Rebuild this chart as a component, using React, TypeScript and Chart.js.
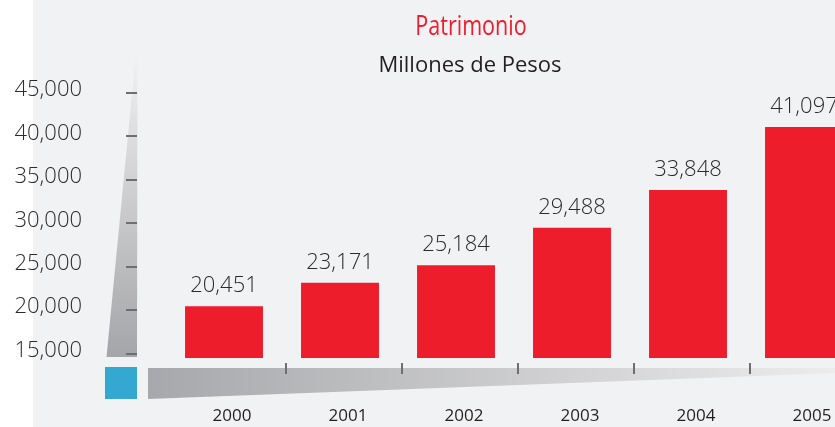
import React, { useEffect, useRef } from "react";
import { Chart, registerables } from "chart.js";

Chart.register(...registerables);

const categories = ["2000", "2001", "2002", "2003", "2004", "2005"];
const patrimonio = [20451, 23171, 25184, 29488, 33848, 41097];
const yTickValues = [15000, 20000, 25000, 30000, 35000, 40000, 45000];
const titleText = "Patrimonio";
const subtitleText = "Millones de Pesos";

const FONT = "'Open Sans', 'DejaVu Sans', sans-serif";

const decorPlugin = {
  id: "decor",
  beforeDraw(chart: any) {
    const ctx = chart.ctx;
    const W = chart.width;
    const H = chart.height;
    ctx.save();
    ctx.fillStyle = "#ffffff";
    ctx.fillRect(0, 0, W, H);
    ctx.fillStyle = "#f1f2f4";
    ctx.fillRect(33, 0, W - 33, H);

    // vertical wedge
    const yScale = chart.scales.y;
    const gv = ctx.createLinearGradient(0, 37, 0, 357);
    gv.addColorStop(0, "#f6f6f7");
    gv.addColorStop(1, "#a4a5a8");
    ctx.fillStyle = gv;
    ctx.beginPath();
    ctx.moveTo(137.5, 37);
    ctx.lineTo(137, 357);
    ctx.lineTo(106.5, 357);
    ctx.closePath();
    ctx.fill();

    // y tick marks on wedge
    ctx.fillStyle = "#6d6e71";
    yTickValues.forEach((v) => {
      const y = Math.round(yScale.getPixelForValue(v));
      ctx.fillRect(126, y - 1, 11, 2);
    });

    // blue square
    ctx.fillStyle = "#35a8d1";
    ctx.fillRect(105, 367, 32, 32);

    // bottom wedge
    const gh = ctx.createLinearGradient(148, 0, 835, 0);
    gh.addColorStop(0, "#a7a8ab");
    gh.addColorStop(1, "#ececed");
    ctx.fillStyle = gh;
    ctx.beginPath();
    ctx.moveTo(148, 368);
    ctx.lineTo(W, 368);
    ctx.lineTo(W, 372);
    ctx.lineTo(148, 399);
    ctx.closePath();
    ctx.fill();

    // x tick marks on bottom wedge
    const xScale = chart.scales.x;
    ctx.fillStyle = "#6d6e71";
    for (let i = 0; i < categories.length - 1; i++) {
      const x = (xScale.getPixelForTick(i) + xScale.getPixelForTick(i + 1)) / 2 + 4;
      ctx.fillRect(Math.round(x) - 1, 363, 2, 11);
    }

    // titles
    ctx.fillStyle = "#ed1c2e";
    ctx.textAlign = "center";
    ctx.textBaseline = "alphabetic";
    ctx.font = `28px ${FONT}`;
    ctx.save();
    ctx.translate(471, 35);
    ctx.scale(0.77, 1);
    ctx.fillText(titleText, 0, 0);
    ctx.restore();

    ctx.fillStyle = "#231f20";
    ctx.font = `22px ${FONT}`;
    ctx.fillText(subtitleText, 470, 72);
    ctx.restore();
  },
  afterDatasetsDraw(chart: any) {
    const ctx = chart.ctx;
    const meta = chart.getDatasetMeta(0);
    ctx.save();
    ctx.fillStyle = "#2b2b2b";
    ctx.font = `300 22px ${FONT}`;
    ctx.textAlign = "center";
    ctx.textBaseline = "alphabetic";
    meta.data.forEach((bar: any, i: number) => {
      ctx.fillText(patrimonio[i].toLocaleString("en-US"), bar.x, bar.y - 14);
    });
    ctx.restore();
  },
};

export default function App() {
  const ref = useRef<HTMLCanvasElement>(null);
  useEffect(() => {
    if (!ref.current) return;
    const chart = new Chart(ref.current, {
      type: "bar",
      data: {
        labels: categories,
        datasets: [
          {
            label: titleText,
            data: patrimonio,
            backgroundColor: "#ee1d2c",
            borderWidth: 0,
            categoryPercentage: 1,
            barPercentage: 0.672,
          },
        ],
      },
      options: {
        animation: false,
        responsive: false,
        layout: { padding: { top: 93, left: 0, right: 0, bottom: 0 } },
        plugins: {
          legend: { display: false },
          tooltip: { enabled: false },
          title: { display: false },
        },
        scales: {
          x: {
            grid: { display: false, drawTicks: false },
            border: { display: false },
            ticks: {
              color: "#231f20",
              font: { family: FONT, size: 17 },
              padding: 48,
              labelOffset: 8,
              maxRotation: 0,
              autoSkip: false,
            },
            afterFit: (s: any) => {
              s.height = 69;
              s.paddingLeft = 0;
              s.paddingRight = 0;
            },
          },
          y: {
            min: 14500,
            max: 45000,
            grid: { display: false, drawTicks: false },
            border: { display: false },
            afterBuildTicks: (s: any) => {
              s.ticks = yTickValues.map((v) => ({ value: v }));
            },
            ticks: {
              color: "#2b2b2b",
              font: { family: FONT, size: 22, weight: "300" as any },
              padding: 84,
              labelOffset: -3,
              callback: (v: any) => Number(v).toLocaleString("en-US"),
            },
            afterFit: (s: any) => {
              s.width = 166;
              s.paddingTop = 0;
              s.paddingBottom = 0;
            },
          },
        },
      },
      plugins: [decorPlugin],
    });
    return () => chart.destroy();
  }, []);
  return (
    <div style={{ position: "absolute", left: 0, top: 0, width: 835, height: 427, overflow: "hidden" }}>
      <canvas ref={ref} width={862} height={427} style={{ display: "block" }} />
    </div>
  );
}
